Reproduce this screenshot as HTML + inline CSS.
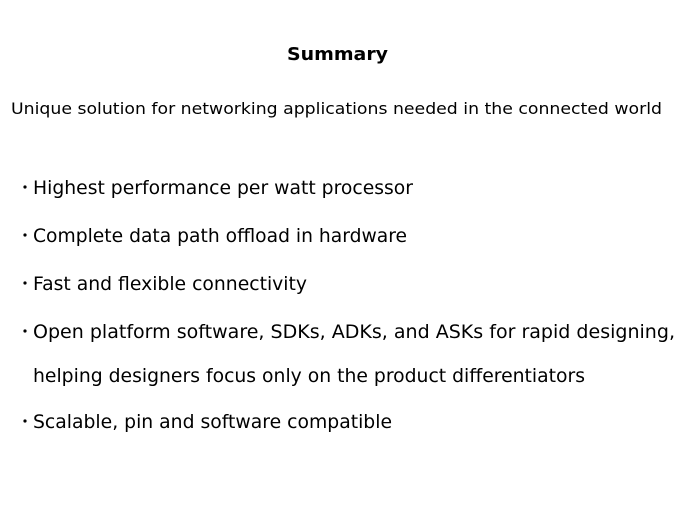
<!DOCTYPE html>
<html><head><meta charset="utf-8"><style>
html,body{margin:0;padding:0;background:#fff;width:675px;height:506px;overflow:hidden}
text{font-family:"DejaVu Sans","Liberation Sans",sans-serif;fill:#000}
</style></head><body>
<svg width="675" height="506" viewBox="0 0 675 506" xmlns="http://www.w3.org/2000/svg">
<text x="287" y="60" font-size="18" font-weight="bold" textLength="101" lengthAdjust="spacingAndGlyphs">Summary</text>
<text x="11" y="114" font-size="16" textLength="651" lengthAdjust="spacingAndGlyphs">Unique solution for networking applications needed in the connected world</text>
<g font-size="19">
<circle cx="25" cy="187" r="1.6"/>
<text x="33" y="194" textLength="380" lengthAdjust="spacingAndGlyphs">Highest performance per watt processor</text>
<circle cx="25" cy="235" r="1.6"/>
<text x="33" y="242" textLength="374" lengthAdjust="spacingAndGlyphs">Complete data path offload in hardware</text>
<circle cx="25" cy="283" r="1.6"/>
<text x="33" y="290" textLength="274" lengthAdjust="spacingAndGlyphs">Fast and flexible connectivity</text>
<circle cx="25" cy="331" r="1.6"/>
<text x="33" y="338" textLength="642" lengthAdjust="spacingAndGlyphs">Open platform software, SDKs, ADKs, and ASKs for rapid designing,</text>
<text x="33" y="382" textLength="552" lengthAdjust="spacingAndGlyphs">helping designers focus only on the product differentiators</text>
<circle cx="25" cy="421" r="1.6"/>
<text x="33" y="428" textLength="359" lengthAdjust="spacingAndGlyphs">Scalable, pin and software compatible</text>
</g>
</svg>
</body></html>
